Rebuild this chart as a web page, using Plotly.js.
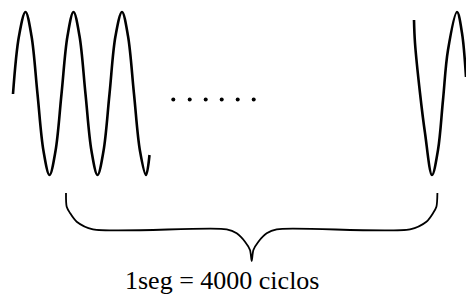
<!DOCTYPE html>
<html>
<head>
<meta charset="utf-8">
<script src="https://cdn.plot.ly/plotly-3.0.1.min.js"></script>
<style>html,body{margin:0;padding:0;background:#fff;}#chart{width:466px;height:294px;}</style>
</head>
<body>
<div id="chart"></div>
<script>
// Left wave (three cycles)
var leftWaveX = [13, 19, 25.5, 31.5, 37.5, 43.5, 49.5, 55.5, 61.5, 67.5, 73.5, 79.5, 85.5, 91.5, 97.5, 103.5, 109.5, 115.5, 122, 128, 134, 140, 146, 149.5];
var leftWaveY = [94, 36, 12, 36, 94, 151, 175, 151, 94, 36, 12, 36, 94, 151, 175, 151, 94, 36, 12, 36, 94, 151, 175, 155];
// Right wave (last cycle)
var rightWaveX = [414, 415, 420, 425, 432, 438, 443, 448, 457, 462, 466];
var rightWaveY = [20, 43, 93, 133, 175, 150, 100, 50, 12, 33, 77];
// Ellipsis dots
var dotsX = [173.3, 189.7, 205.7, 221.7, 237.7, 253.7];
var dotsY = [99.5, 99.5, 99.5, 99.5, 99.5, 99.5];
// Curly brace
var braceX = [66, 66.7, 70, 76.7, 93, 226.7, 236.7, 245, 250, 251.7, 253.4, 258.4, 266.7, 276.7, 410, 426.4, 433.1, 436.4, 437.4];
var braceY = [193, 206.7, 213, 221.7, 229.3, 229.3, 233.3, 241.7, 250, 261, 250, 241.7, 233.3, 229.3, 229.3, 221.7, 213, 206.7, 193];
// Label
var labelText = ["1seg = 4000 ciclos"];
var labelX = [222];
var labelY = [280];

var serifFont = 'Liberation Serif';
var waveLine = {color: '#000', width: 2.6, shape: 'spline', smoothing: 1};
var traces = [
  {x: leftWaveX, y: leftWaveY, mode: 'lines', line: waveLine, hoverinfo: 'skip'},
  {x: rightWaveX, y: rightWaveY, mode: 'lines', line: waveLine, hoverinfo: 'skip'},
  {x: dotsX, y: dotsY, mode: 'markers', marker: {color: '#000', size: 4}, hoverinfo: 'skip'},
  {x: braceX, y: braceY, mode: 'lines', line: {color: '#000', width: 1.8, shape: 'spline', smoothing: 0.8}, hoverinfo: 'skip'}
];
var layout = {
  width: 466, height: 294,
  margin: {l: 0, r: 0, t: 0, b: 0},
  paper_bgcolor: '#fff', plot_bgcolor: '#fff',
  showlegend: false,
  font: {family: serifFont, color: '#000'},
  xaxis: {range: [0, 466], visible: false, fixedrange: true},
  yaxis: {range: [294, 0], visible: false, fixedrange: true},
  annotations: [{
    x: labelX[0], y: labelY[0], xref: 'x', yref: 'y',
    text: labelText[0], showarrow: false,
    xanchor: 'center', yanchor: 'middle',
    font: {family: serifFont, size: 26, color: '#000'}
  }]
};
Plotly.newPlot('chart', traces, layout, {displayModeBar: false, staticPlot: true});
</script>
</body>
</html>
